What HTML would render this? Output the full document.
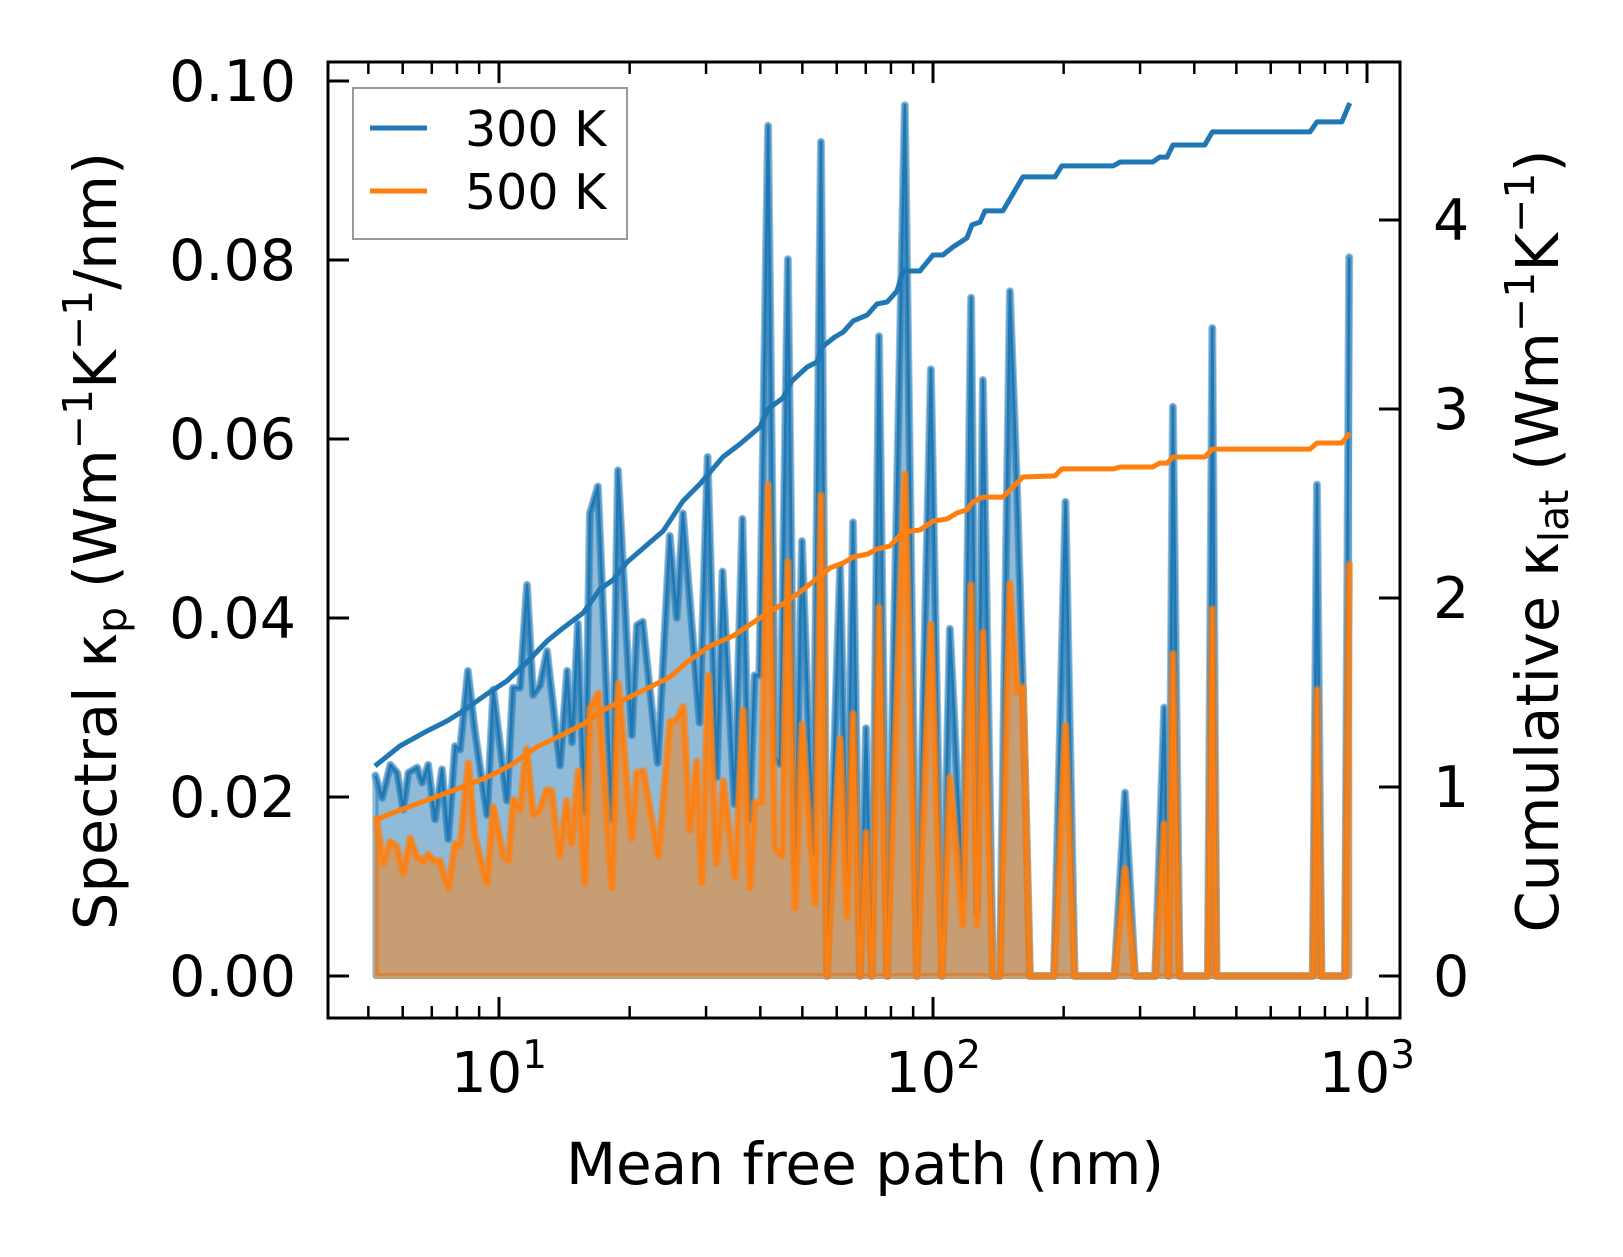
<!DOCTYPE html>
<html><head><meta charset="utf-8"><style>
html,body{margin:0;padding:0;background:#fff;}
svg{display:block;font-family:"DejaVu Sans","Liberation Sans",sans-serif;}
</style></head><body>
<svg id="chart" width="1623" height="1257" viewBox="0 0 1623 1257" xmlns="http://www.w3.org/2000/svg">
<g id="plot"></g>
</svg>
<script>
// ---- data ----
const mfpBlue = [5.19,5.38,5.62,5.83,6.02,6.18,6.48,6.65,6.87,7.12,7.39,7.64,7.92,8.13,8.48,8.80,9.39,9.70,10.43,10.76,11.18,11.60,11.98,12.43,12.90,13.83,14.35,14.73,15.20,15.77,16.20,16.90,18.20,18.80,20.23,20.78,21.43,23.21,24.75,25.69,26.53,28.98,30.25,31.74,32.74,34.89,36.38,37.77,38.79,39.79,41.7,43.3,44.4,46.3,48.1,49.9,52.9,55.2,57.0,61.1,63.4,65.4,67.9,70.1,72.3,75.1,78.4,86.1,91.8,98.9,104.9,109.4,117.2,122.4,126.3,130.3,137.4,142.6,150.4,156.2,161.1,167.2,190,202,212,262,277,292,325,341,349,357,370,430,440,450,750,767,785,890,910];
const kappa300 = [0.0224,0.0199,0.0236,0.0227,0.0186,0.0227,0.0233,0.0216,0.0236,0.0175,0.0231,0.0153,0.0257,0.0253,0.0341,0.0274,0.0180,0.0320,0.0196,0.0322,0.0322,0.0437,0.0314,0.0325,0.0363,0.0235,0.0341,0.0261,0.0394,0.0183,0.0517,0.0547,0.0175,0.0565,0.0269,0.0392,0.0396,0.0238,0.0492,0.0400,0.0517,0.0283,0.0580,0.0222,0.0452,0.0192,0.0511,0.0175,0.0336,0.0336,0.0950,0.0245,0.0237,0.0801,0.0125,0.0486,0.0139,0.0932,0,0.0458,0.0109,0.0507,0,0.0277,0,0.0715,0,0.0973,0,0.0678,0,0.0388,0.0090,0.0758,0.0072,0.0666,0,0,0.0765,0.0543,0.0323,0,0,0.053,0,0,0.0205,0,0,0.030,0,0.0636,0,0,0.0724,0,0,0.0549,0,0,0.0803];
const mfpOrange = [5.22,5.41,5.61,5.81,6.02,6.24,6.46,6.69,6.87,7.06,7.31,7.64,7.92,8.13,8.50,8.80,9.37,9.70,10.24,10.51,10.79,11.18,11.58,12.00,12.42,12.88,13.22,13.81,14.31,14.69,15.22,15.77,16.20,16.94,18.19,18.84,20.22,20.75,21.50,23.30,24.77,25.66,26.58,27.55,28.55,29.31,30.37,31.74,32.88,34.98,36.56,37.88,38.87,40.28,41.7,43.3,44.9,46.3,48.1,49.9,53.5,55.2,57.0,61.1,63.4,65.4,67.9,70.1,72.3,75.1,78.4,86.1,91.8,98.9,104.9,109.4,117.2,122.4,126.3,130.3,137.4,142.6,150.4,156.2,161.1,167.2,190,202,212,262,277,292,325,341,349,357,370,430,440,450,750,767,785,890,910];
const kappa500 = [0.0175,0.0126,0.0150,0.0145,0.0115,0.0154,0.0134,0.0128,0.0136,0.0129,0.0129,0.0098,0.0148,0.0145,0.0238,0.0156,0.0104,0.0189,0.0134,0.0129,0.0197,0.0186,0.0254,0.0180,0.0186,0.0208,0.0207,0.0134,0.0196,0.0148,0.0229,0.0104,0.0298,0.0316,0.0099,0.0327,0.0154,0.0227,0.0229,0.0134,0.0284,0.0286,0.0301,0.0163,0.0240,0.0104,0.0336,0.0126,0.0218,0.0111,0.0297,0.0099,0.0194,0.0194,0.0549,0.0143,0.0134,0.0463,0.0076,0.0281,0.0081,0.0537,0,0.0265,0.0066,0.0293,0,0.0160,0,0.0412,0,0.0561,0,0.0393,0,0.0222,0.0057,0.0437,0.0057,0.0384,0,0,0.0439,0.0317,0.0323,0,0,0.028,0,0,0.012,0,0,0.017,0,0.036,0,0,0.041,0,0,0.032,0,0,0.046];
const mfpCum300 = [5.18,5.91,6.82,7.59,8.26,9.38,10.43,11.60,12.90,14.04,15.63,17.10,18.32,19.73,22.30,23.88,26.55,29.04,32.81,35.92,39.91,41.7,45.1,47.3,51.3,54.1,55.5,59.4,62.1,65.5,70.5,74.3,78.4,82.6,85.3,93.3,100,105.4,111.2,119.7,123.0,128.3,131.8,144.9,161.1,191,198,260,270,321,333,346,357,423,440,739,767,875,913];
const cum300 = [1.111,1.217,1.296,1.349,1.402,1.492,1.561,1.661,1.772,1.841,1.921,2.048,2.095,2.190,2.296,2.354,2.513,2.603,2.746,2.815,2.905,3.000,3.058,3.148,3.222,3.249,3.328,3.381,3.407,3.466,3.497,3.556,3.566,3.624,3.730,3.730,3.815,3.815,3.857,3.905,3.974,3.989,4.048,4.048,4.228,4.228,4.286,4.286,4.307,4.307,4.333,4.333,4.397,4.397,4.466,4.466,4.519,4.519,4.619];
const mfpCum500 = [5.18,5.91,7.05,8.13,9.53,10.77,12.23,13.82,15.63,17.38,19.32,22.30,24.78,27.11,30.62,34.58,40.55,45.1,49.4,54.9,57.9,62.1,65.5,70.8,74.3,79.6,85.3,93.3,100,107.7,113.6,119.7,123.5,130.3,144.9,161.1,191,198,260,270,321,333,346,357,423,440,739,767,875,913];
const cum500 = [0.825,0.878,0.942,0.995,1.058,1.122,1.212,1.270,1.333,1.407,1.460,1.529,1.582,1.661,1.746,1.799,1.905,1.968,2.032,2.116,2.159,2.185,2.217,2.233,2.259,2.275,2.349,2.360,2.407,2.418,2.450,2.466,2.508,2.534,2.534,2.640,2.646,2.683,2.683,2.693,2.693,2.714,2.714,2.746,2.746,2.788,2.788,2.820,2.820,2.873];
const leftTicks = [0,0.02,0.04,0.06,0.08,0.10];
const leftTickLabels = ["0.00","0.02","0.04","0.06","0.08","0.10"];
const rightTicks = [0,1,2,3,4];
const xMajor = [1,2,3];

// ---- axes ----
const L=328,R=1400,T=62,B=1018;
const X0=499, DEC=434;
const sx = v => X0 + (Math.log10(v)-1)*DEC;
const sy = v => 976 - v*8950;
const sy2 = v => 976 - v*189;
const NS="http://www.w3.org/2000/svg";
const g=document.getElementById('plot');
function mk(tag,attrs,parent){const e=document.createElementNS(NS,tag);for(const k in attrs)e.setAttribute(k,attrs[k]);(parent||g).appendChild(e);return e;}

const defs=mk('defs',{});
const cp=mk('clipPath',{id:'clip'},defs);
mk('rect',{x:L,y:T,width:R-L,height:B-T},cp);
const area=mk('g',{'clip-path':'url(#clip)'});



function series(xs,ys,color,name){
  let pts=xs.map((x,i)=>sx(x).toFixed(1)+','+sy(ys[i]).toFixed(1));
  const fillD='M'+sx(xs[0]).toFixed(1)+','+sy(0)+' L'+pts.join(' L')+' L'+sx(xs[xs.length-1]).toFixed(1)+','+sy(0)+' Z';
  const f=mk('path',{d:fillD,fill:color,'fill-opacity':0.5,stroke:color,'stroke-opacity':0.5,'stroke-width':6,'stroke-linejoin':'round'},area);
  
  
  const h=mk('path',{d:'M'+pts.join(' L'),fill:'none',stroke:color,'stroke-opacity':0.45,'stroke-width':8,'stroke-linejoin':'round','stroke-linecap':'round'},area);
  
  
  const l=mk('path',{d:'M'+pts.join(' L'),fill:'none',stroke:color,'stroke-width':2.5,'stroke-linejoin':'round'},area);
  
  
}
series(mfpBlue,kappa300,'#1f77b4','spectral-300k');
series(mfpOrange,kappa500,'#ff7f0e','spectral-500k');

function cum(xs,ys,color,name){
  const d='M'+xs.map((x,i)=>sx(x).toFixed(1)+','+sy2(ys[i]).toFixed(1)).join(' L');
  const l=mk('path',{d:d,fill:'none',stroke:color,'stroke-width':5,'stroke-linejoin':'round'},area);
  
  
}
cum(mfpCum300,cum300,'#1f77b4','cumulative-300k');
cum(mfpCum500,cum500,'#ff7f0e','cumulative-500k');

const sp=mk('rect',{x:L,y:T,width:R-L,height:B-T,fill:'none',stroke:'#000','stroke-width':3});



for(let p=0;p<=3;p++){
  for(let m=1;m<10;m++){
    const v=m*Math.pow(10,p);
    const x=sx(v);
    if(x<L+2||x>R-2)continue;
    const len=(m===1)?21:12;
    const t1=mk('line',{x1:x,y1:B,x2:x,y2:B-len,stroke:'#000','stroke-width':(m===1)?3:2.5});
    
    
    const t2=mk('line',{x1:x,y1:T,x2:x,y2:T+len,stroke:'#000','stroke-width':(m===1)?3:2.5});
    
    
  }
}
xMajor.forEach(p=>{
  const x=sx(Math.pow(10,p));
  const t=mk('text',{x:x,y:1092,'font-size':56,'text-anchor':'middle'});
  
  
  t.textContent='10';
  const s=mk('tspan',{dy:-24,'font-size':39},t);
  s.textContent=String(p);
});
leftTicks.forEach((v,i)=>{
  const y=sy(v);
  const tk=mk('line',{x1:L,y1:y,x2:L+21,y2:y,stroke:'#000','stroke-width':3});
  
  
  const t=mk('text',{x:296,y:y+20,'font-size':57,'text-anchor':'end'});
  
  
  t.textContent=leftTickLabels[i];
});
rightTicks.forEach(v=>{
  const y=sy2(v);
  const tk=mk('line',{x1:R,y1:y,x2:R-21,y2:y,stroke:'#000','stroke-width':3});
  
  
  const t=mk('text',{x:1433,y:y+20,'font-size':57});
  
  
  t.textContent=String(v);
});
</script>
<script>
(function(){
const NS="http://www.w3.org/2000/svg";
const svg=document.getElementById('chart');
function mk(tag,attrs,parent){const e=document.createElementNS(NS,tag);for(const k in attrs)e.setAttribute(k,attrs[k]);(parent||svg).appendChild(e);return e;}
const xl=mk('text',{x:865,y:1184,'font-size':58,'text-anchor':'middle'});


xl.textContent='Mean free path (nm)';
const yl=mk('text',{x:0,y:0,'font-size':59,'text-anchor':'middle',transform:'translate(116,541) rotate(-90)'});


yl.innerHTML='Spectral κ<tspan font-size="41" dy="10">p</tspan><tspan dy="-10"> (Wm</tspan><tspan font-size="41" dy="-24">−1</tspan><tspan dy="24">K</tspan><tspan font-size="41" dy="-24">−1</tspan><tspan dy="24">/nm)</tspan>';
const yr=mk('text',{x:0,y:0,'font-size':59,'text-anchor':'middle',transform:'translate(1558,541) rotate(-90)'});


yr.innerHTML='Cumulative κ<tspan font-size="41" dy="10">lat</tspan><tspan dy="-10"> (Wm</tspan><tspan font-size="41" dy="-24">−1</tspan><tspan dy="24">K</tspan><tspan font-size="41" dy="-24">−1</tspan><tspan dy="24">)</tspan>';
const lg=mk('g',{});


const box=mk('rect',{x:353,y:88,width:274,height:151,fill:'#fff','fill-opacity':0.8,stroke:'#999','stroke-width':2},lg);


[['300 K','#1f77b4',128],['500 K','#ff7f0e',191]].forEach(e=>{
  const ln=mk('line',{x1:370,y1:e[2],x2:427,y2:e[2],stroke:e[1],'stroke-width':5},lg);
  
  
  const t=mk('text',{x:465,y:e[2]+18,'font-size':49},lg);
  
  
  t.textContent=e[0];
});
})();
</script>
</body></html>
